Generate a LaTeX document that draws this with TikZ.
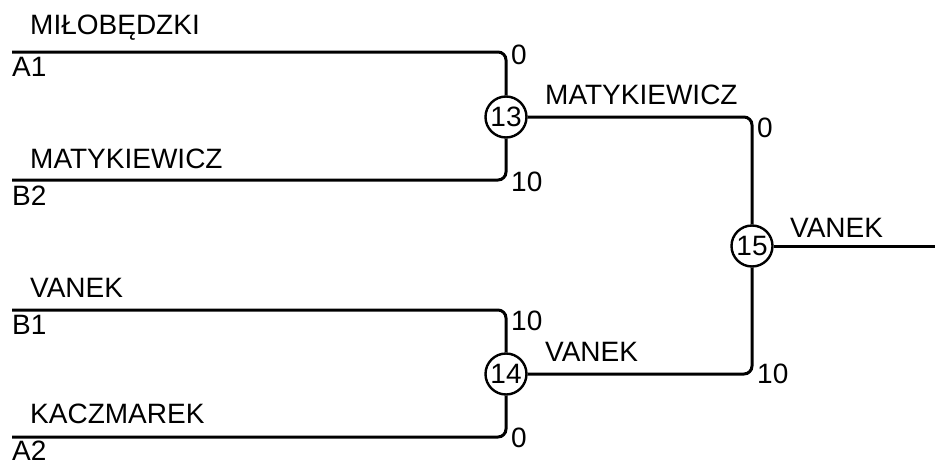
\documentclass[tikz,border=0pt]{standalone}
\usepackage{fontspec}
\setmainfont{Liberation Sans}
\usetikzlibrary{positioning}
\tikzset{
    base/.style={font=\fontsize{28}{32}\selectfont, inner sep=0pt},
    wire/.style={line width=3pt, rounded corners=8pt},
    match/.style={base, circle, draw, line width=2.4pt, fill=white, minimum size=41pt},
    player/.style={base, anchor=base west},
    slot/.style={base, anchor=north west, text depth=0pt},
    score/.style={base, anchor=west}
}

\begin{document}
\begin{tikzpicture}[x=1pt, y=-1pt]
  \useasboundingbox (0,0) rectangle (935,464);

  % Entry lines
  \coordinate (a1) at (12,52);
  \coordinate (b2) at (12,180);
  \coordinate (b1) at (12,310);
  \coordinate (a2) at (12,437);
  \coordinate (out) at (935,246);

  % Matches
  \node[match] (m13) at (506,117) {13};
  \node[match] (m14) at (506,374) {14};
  \node[match] (m15) at (752,246) {15};

  % Wires
  \draw[wire] (a1) -| (m13);
  \draw[wire] (b2) -| (m13);
  \draw[wire] (b1) -| (m14);
  \draw[wire] (a2) -| (m14);
  \draw[wire] (m13) -| (m15);
  \draw[wire] (m14) -| (m15);
  \draw[wire] (m15) -- (out);

  % Players
  \node[player] (p1) at (30,34) {MIŁOBĘDZKI};
  \node[player] (p2) at (30,168) {MATYKIEWICZ};
  \node[player] (p3) at (30,297) {VANEK};
  \node[player] (p4) at (30,423) {KACZMAREK};
  \node[player] (w13) at (545,104) {MATYKIEWICZ};
  \node[player] (w14) at (545,361) {VANEK};
  \node[player] (w15) at (790,237) {VANEK};

  % Slots
  \node[slot] (s1) at (12,57) {A1};
  \node[slot] (s2) at (12,186) {B2};
  \node[slot] (s3) at (12,315) {B1};
  \node[slot] (s4) at (12,441) {A2};

  % Scores
  \node[score] (r1) at (511,55) {0};
  \node[score] (r2) at (511,182) {10};
  \node[score] (r3) at (511,321) {10};
  \node[score] (r4) at (511,438) {0};
  \node[score] (r5) at (757,128) {0};
  \node[score] (r6) at (757,374) {10};
\end{tikzpicture}
\end{document}
